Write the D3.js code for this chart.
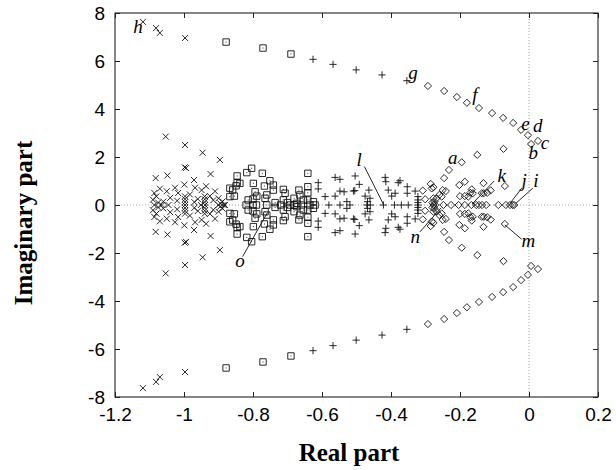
<!DOCTYPE html>
<html>
<head>
<meta charset="utf-8">
<script src="https://cdn.jsdelivr.net/npm/d3@7"></script>
<style>
  body { margin: 0; background: #fff; }
  .tick text { font-family: "Liberation Sans", Arial, sans-serif; font-size: 19px; fill: #000; }
  .axis-title { font-family: "Liberation Serif", serif; font-weight: bold; font-size: 25px; }
  .letter { font-family: "Liberation Serif", serif; font-style: italic; font-size: 19px; }
</style>
</head>
<body>
<div id="chart"></div>
<script>
// eigenvalues, [real, imaginary]
const crossPts = [
  [-1.119,7.63],[-1.081,7.37],[-1.070,7.17],[-0.997,6.96],
  [-1.053,2.85],[-0.997,2.50],[-0.946,2.18],[-0.896,1.88],[-0.998,1.57],[-0.994,1.54],
  [-1.048,1.23],[-1.082,1.12],[-0.971,1.04],[-0.923,1.29],[-0.999,0.85],[-1.026,0.72],
  [-1.070,0.68],[-1.050,0.57],[-1.086,0.50],[-0.968,0.72],[-0.949,0.62],[-0.936,0.78],
  [-0.910,0.57],[-1.017,0.50],[-0.983,0.44],[-0.925,0.37],[-0.900,0.28],[-0.888,0.15],
  [-1.080,0.36],[-1.090,0.22],[-1.075,0.10],[-1.040,0.30],[-1.020,0.18],[-0.997,0.36],
  [-0.997,0.24],[-0.997,0.12],[-0.940,0.36],[-0.940,0.24],[-0.940,0.12],[-0.960,0.25],
  [-0.915,0.20],[-0.895,0.07],[-1.060,0.14],[-0.970,0.12],
  [-1.086,0],[-1.065,0],[-1.045,0],[-0.997,0],[-0.951,0],[-0.939,0],[-0.900,0],[-0.885,0],[-0.881,0],
  [-1.053,-2.85],[-0.997,-2.50],[-0.946,-2.18],[-0.896,-1.88],[-0.998,-1.57],[-0.994,-1.54],
  [-1.048,-1.23],[-1.082,-1.12],[-0.971,-1.04],[-0.923,-1.29],[-0.999,-0.85],[-1.026,-0.72],
  [-1.070,-0.68],[-1.050,-0.57],[-1.086,-0.50],[-0.968,-0.72],[-0.949,-0.62],[-0.936,-0.78],
  [-0.910,-0.57],[-1.017,-0.50],[-0.983,-0.44],[-0.925,-0.37],[-0.900,-0.28],[-0.888,-0.15],
  [-1.080,-0.36],[-1.090,-0.22],[-1.075,-0.10],[-1.040,-0.30],[-1.020,-0.18],[-0.997,-0.36],
  [-0.997,-0.24],[-0.997,-0.12],[-0.940,-0.36],[-0.940,-0.24],[-0.940,-0.12],[-0.960,-0.25],
  [-0.915,-0.20],[-0.895,-0.07],[-1.060,-0.14],[-0.970,-0.12],
  [-1.119,-7.63],[-1.081,-7.37],[-1.070,-7.17],[-0.997,-6.96]
];

const boxPts = [
  [-0.878,6.79],[-0.771,6.54],[-0.690,6.29],
  [-0.867,0.70],[-0.859,0.63],[-0.849,0.80],[-0.846,0.93],[-0.867,0.35],[-0.854,0.37],
  [-0.846,1.21],[-0.818,1.35],[-0.804,1.53],[-0.773,1.32],[-0.838,0.90],[-0.799,0.90],
  [-0.794,0.55],[-0.789,0.37],[-0.814,0.21],[-0.800,0.25],[-0.767,0.79],[-0.751,1.01],
  [-0.741,0.83],[-0.741,0.62],[-0.765,0.28],[-0.760,0.42],[-0.736,0.10],[-0.712,0.65],
  [-0.707,0.49],[-0.712,0.21],[-0.681,0.28],[-0.667,0.62],[-0.664,0.42],[-0.654,0.21],
  [-0.673,0.07],[-0.641,1.32],[-0.641,0.76],[-0.641,0.51],[-0.641,0.21],[-0.625,0.14],[-0.700,0.10],
  [-0.820,0],[-0.800,0],[-0.790,0],[-0.760,0],[-0.720,0],[-0.693,0],[-0.680,0],[-0.660,0],[-0.635,0],[-0.620,0],
  [-0.867,-0.70],[-0.859,-0.63],[-0.849,-0.80],[-0.846,-0.93],[-0.867,-0.35],[-0.854,-0.37],
  [-0.846,-1.21],[-0.818,-1.35],[-0.804,-1.53],[-0.773,-1.32],[-0.838,-0.90],[-0.799,-0.90],
  [-0.794,-0.55],[-0.789,-0.37],[-0.814,-0.21],[-0.800,-0.25],[-0.767,-0.79],[-0.751,-1.01],
  [-0.741,-0.83],[-0.741,-0.62],[-0.765,-0.28],[-0.760,-0.42],[-0.736,-0.10],[-0.712,-0.65],
  [-0.707,-0.49],[-0.712,-0.21],[-0.681,-0.28],[-0.667,-0.62],[-0.664,-0.42],[-0.654,-0.21],
  [-0.673,-0.07],[-0.641,-1.32],[-0.641,-0.76],[-0.641,-0.51],[-0.641,-0.21],[-0.625,-0.14],[-0.700,-0.10],
  [-0.878,-6.79],[-0.771,-6.54],[-0.690,-6.29]
];

const plusPts = [
  [-0.626,6.07],[-0.568,5.86],[-0.501,5.63],[-0.426,5.42],[-0.354,5.18],
  [-0.611,0.93],[-0.611,0.67],[-0.591,0.35],[-0.562,1.15],[-0.548,1.07],[-0.504,1.21],
  [-0.492,0.86],[-0.548,0.58],[-0.536,0.55],[-0.509,0.58],[-0.505,0.60],[-0.464,0.62],
  [-0.562,0.37],[-0.528,0.14],[-0.475,0.37],[-0.461,0.28],[-0.468,0.14],[-0.417,1.15],
  [-0.415,0.97],[-0.408,0.62],[-0.398,0.37],[-0.388,0.49],[-0.379,0.93],[-0.374,1.01],
  [-0.353,0.76],[-0.353,0.49],[-0.330,0.58],[-0.322,0.35],[-0.322,0.21],[-0.322,0.10],
  [-0.580,0],[-0.548,0],[-0.519,0],[-0.470,0],[-0.460,0],[-0.422,0],[-0.390,0],[-0.370,0],[-0.350,0],[-0.322,0],
  [-0.611,-0.93],[-0.611,-0.67],[-0.591,-0.35],[-0.562,-1.15],[-0.548,-1.07],[-0.504,-1.21],
  [-0.492,-0.86],[-0.548,-0.58],[-0.536,-0.55],[-0.509,-0.58],[-0.505,-0.60],[-0.464,-0.62],
  [-0.562,-0.37],[-0.528,-0.14],[-0.475,-0.37],[-0.461,-0.28],[-0.468,-0.14],[-0.417,-1.15],
  [-0.415,-0.97],[-0.408,-0.62],[-0.398,-0.37],[-0.388,-0.49],[-0.379,-0.93],[-0.374,-1.01],
  [-0.353,-0.76],[-0.353,-0.49],[-0.330,-0.58],[-0.322,-0.35],[-0.322,-0.21],[-0.322,-0.10],
  [-0.626,-6.07],[-0.568,-5.86],[-0.501,-5.63],[-0.426,-5.42],[-0.354,-5.18]
];

const diamondPts = [
  [-0.293,4.96],[-0.246,4.75],[-0.209,4.50],[-0.180,4.26],[-0.145,4.04],[-0.107,3.83],
  [-0.075,3.63],[-0.046,3.42],[-0.023,3.13],[-0.003,2.91],[0.006,2.54],[0.026,2.67],
  [-0.150,2.09],[-0.074,2.34],[-0.195,1.78],[-0.232,1.46],[-0.246,1.12],[-0.285,0.88],
  [-0.277,0.74],[-0.308,0.60],[-0.202,0.83],[-0.186,0.97],[-0.132,0.91],[-0.070,0.79],
  [-0.111,0.61],[-0.121,0.51],[-0.131,0.49],[-0.137,0.49],[-0.166,0.65],[-0.170,0.51],
  [-0.163,0.49],[-0.200,0.37],[-0.186,0.37],[-0.176,0.35],[-0.250,0.62],[-0.241,0.58],
  [-0.260,0.42],[-0.253,0.35],[-0.277,0.28],[-0.268,0.28],[-0.301,0.24],[-0.280,0.10],
  [-0.274,0.14],[-0.282,0.69],
  [-0.277,0],[-0.272,0],[-0.248,0],[-0.226,0],[-0.204,0],[-0.186,0],[-0.167,0],[-0.153,0],
  [-0.145,0],[-0.136,0],[-0.124,0],[-0.089,0],[-0.067,0],[-0.055,0],[-0.047,0],[-0.043,0],
  [-0.150,-2.09],[-0.074,-2.34],[-0.195,-1.78],[-0.232,-1.46],[-0.246,-1.12],[-0.285,-0.88],
  [-0.277,-0.74],[-0.308,-0.60],[-0.202,-0.83],[-0.186,-0.97],[-0.132,-0.91],[-0.070,-0.79],
  [-0.111,-0.61],[-0.121,-0.51],[-0.131,-0.49],[-0.137,-0.49],[-0.166,-0.65],[-0.170,-0.51],
  [-0.163,-0.49],[-0.200,-0.37],[-0.186,-0.37],[-0.176,-0.35],[-0.250,-0.62],[-0.241,-0.58],
  [-0.260,-0.42],[-0.253,-0.35],[-0.277,-0.28],[-0.268,-0.28],[-0.301,-0.24],[-0.280,-0.10],
  [-0.274,-0.14],[-0.282,-0.69],
  [-0.293,-4.96],[-0.246,-4.75],[-0.209,-4.50],[-0.180,-4.26],[-0.145,-4.04],[-0.107,-3.83],
  [-0.075,-3.63],[-0.046,-3.42],[-0.023,-3.13],[-0.003,-2.91],[0.006,-2.54],[0.026,-2.67]
];

// letter annotations (text and where they sit, in data units)
const labelText = ["a","b","c","d","e","f","g","h","i","j","k","l","m","n","o"];
const labelRe = [-0.221,0.012,0.046,0.025,-0.010,-0.157,-0.336,-1.133,0.020,-0.014,-0.079,-0.492,-0.002,-0.330,-0.838];
const labelIm = [1.95,2.15,2.57,3.27,3.35,4.58,5.50,7.42,1.00,0.97,1.21,1.85,-1.53,-1.35,-2.36];

// leader lines: [re1, im1, re2, im2]
const leaders = [
  [-0.101,1.00,-0.165,0.04],
  [-0.021,0.70,-0.055,0.07],
  [0.011,0.70,-0.038,0.07],
  [-0.021,-1.43,-0.070,-0.83],
  [-0.477,1.60,-0.422,0.03],
  [-0.316,-1.12,-0.255,-0.12],
  [-0.830,-2.15,-0.758,-0.31]
];

const xTicks = [-1.2,-1,-0.8,-0.6,-0.4,-0.2,0,0.2];
const xTickLabels = ["-1.2","-1","-0.8","-0.6","-0.4","-0.2","0","0.2"];
const yTicks = [-8,-6,-4,-2,0,2,4,6,8];
const yTickLabels = ["-8","-6","-4","-2","0","2","4","6","8"];

const margin = { top: 13, right: 18, bottom: 73, left: 115 };
const width = 616 - margin.left - margin.right;
const height = 470 - margin.top - margin.bottom;

const root = d3.select("#chart")
  .append("svg")
  .attr("width", 616)
  .attr("height", 470);

const svg = root.append("g")
  .attr("transform", `translate(${margin.left}, ${margin.top})`);

const xScale = d3.scaleLinear().domain([-1.2, 0.2]).range([0, width]);
const yScale = d3.scaleLinear().domain([-8, 8]).range([height, 0]);

// dotted zero lines
svg.append("line")
  .attr("x1", 0).attr("x2", width)
  .attr("y1", yScale(0)).attr("y2", yScale(0))
  .attr("stroke", "#888").attr("stroke-width", 0.8).attr("stroke-dasharray", "1,2");
svg.append("line")
  .attr("x1", xScale(0)).attr("x2", xScale(0))
  .attr("y1", 0).attr("y2", height)
  .attr("stroke", "#888").attr("stroke-width", 0.8).attr("stroke-dasharray", "1,2");

// axes, ticks pointing inward on all four sides
const xAxis = d3.axisBottom(xScale).tickValues(xTicks).tickFormat((d, i) => xTickLabels[i]).tickSize(-5).tickPadding(11);
const yAxis = d3.axisLeft(yScale).tickValues(yTicks).tickFormat((d, i) => yTickLabels[i]).tickSize(-5).tickPadding(10);

svg.append("g").attr("transform", `translate(0,${height})`).call(xAxis);
svg.append("g").call(yAxis);
svg.append("g").call(d3.axisTop(xScale).tickValues(xTicks).tickFormat("").tickSize(-5));
svg.append("g").attr("transform", `translate(${width},0)`).call(d3.axisRight(yScale).tickValues(yTicks).tickFormat("").tickSize(-5));
svg.selectAll(".domain").remove();
svg.selectAll(".tick line").attr("stroke", "#222");

svg.append("rect")
  .attr("width", width).attr("height", height)
  .attr("fill", "none").attr("stroke", "#222").attr("stroke-width", 1.1);

// markers
const symbols = {
  cross: "M-3,-3L3,3M-3,3L3,-3",
  box: "M-3.2,-3.2H3.2V3.2H-3.2Z",
  plus: "M-3.6,0H3.6M0,-3.6V3.6",
  diamond: "M0,-3.6L3.6,0L0,3.6L-3.6,0Z"
};

function drawSeries(pts, kind) {
  const g = svg.append("g").attr("class", `points ${kind}`);
  const node = g.selectAll("g")
    .data(pts)
    .join("g")
    .attr("transform", d => `translate(${xScale(d[0])}, ${yScale(d[1])})`);
  node.append("path")
    .attr("d", symbols[kind])
    .attr("fill", "none")
    .attr("stroke", "#111")
    .attr("stroke-width", 0.9);
  if (kind === "box") {
    node.append("rect").attr("x", -0.5).attr("y", -0.5).attr("width", 1).attr("height", 1).attr("fill", "#333");
  }
}

drawSeries(crossPts, "cross");
drawSeries(boxPts, "box");
drawSeries(plusPts, "plus");
drawSeries(diamondPts, "diamond");

// leader lines and letters
svg.selectAll(".leader")
  .data(leaders)
  .join("line")
  .attr("class", "leader")
  .attr("x1", d => xScale(d[0])).attr("y1", d => yScale(d[1]))
  .attr("x2", d => xScale(d[2])).attr("y2", d => yScale(d[3]))
  .attr("stroke", "#111").attr("stroke-width", 0.9);

svg.selectAll(".letter")
  .data(labelText)
  .join("text")
  .attr("class", "letter")
  .attr("x", (d, i) => xScale(labelRe[i]))
  .attr("y", (d, i) => yScale(labelIm[i]))
  .attr("dy", "0.3em")
  .attr("text-anchor", "middle")
  .text(d => d);

// axis titles
root.append("text")
  .attr("class", "axis-title")
  .attr("x", 349)
  .attr("y", 461)
  .attr("text-anchor", "middle")
  .text("Real part");

root.append("text")
  .attr("class", "axis-title")
  .attr("transform", "translate(32, 223) rotate(-90)")
  .attr("text-anchor", "middle")
  .text("Imaginary part");
</script>
</body>
</html>
